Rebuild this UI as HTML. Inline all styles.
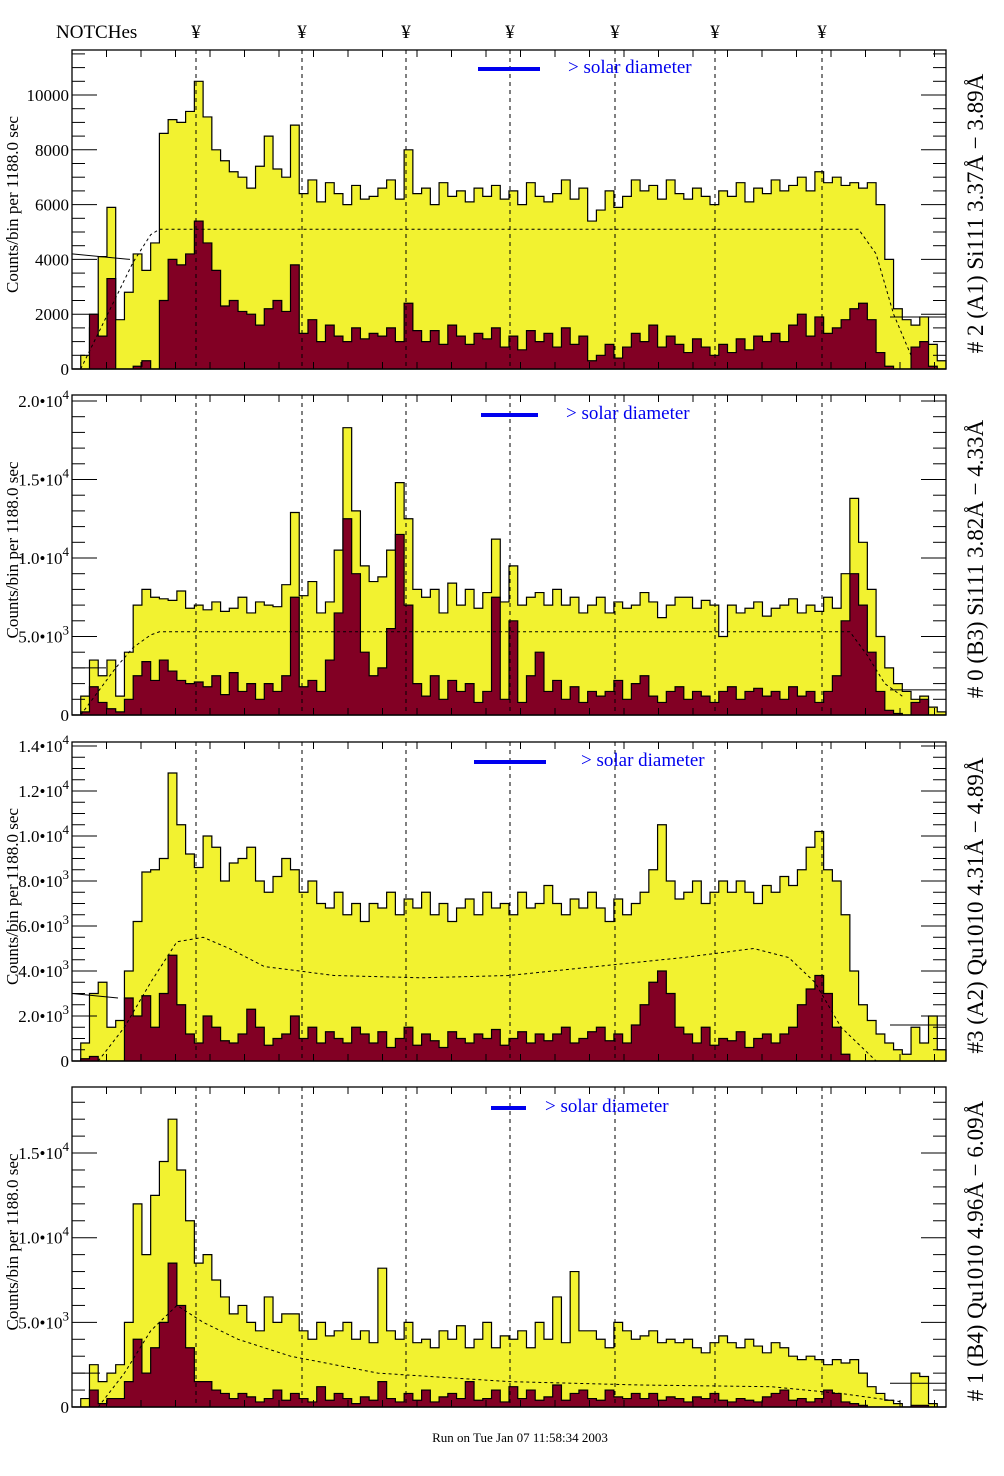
<!DOCTYPE html>
<html><head><meta charset="utf-8"><style>
html,body{margin:0;padding:0;background:#fff}
svg{display:block}
text{font-family:"Liberation Serif",serif}
</style></head><body>
<svg id="c" width="1004" height="1476" viewBox="0 0 1004 1476" xmlns="http://www.w3.org/2000/svg">
<text x="56" y="38" font-size="19">NOTCHes</text>
<g id="notchmarks"></g>
<g id="panels"></g>
<text x="520" y="1442" font-size="13" text-anchor="middle">Run on Tue Jan 07 11:58:34 2003</text>
</svg>
<script>
// ---- data (counts in thousands, 100 bins across detector) ----
const notchPositions = [196, 302, 406, 510, 615, 715, 822];
const p1Total = [0,0.5,1.5,4.1,5.9, 1.8,2.8,4.2,3.6,4.6, 8.6,9.1,9.0,9.4,10.5, 9.2,8.0,7.6,7.2,7.0, 6.6,7.4,8.5,7.3,7.0, 8.9,6.4,6.9,6.1,6.8, 6.4,6.0,6.7,6.2,6.3, 6.6,6.9,6.2,8.0,6.4, 6.6,6.0,6.8,6.3,6.5, 6.1,6.6,6.3,6.7,6.2, 6.5,6.0,6.8,6.3,6.1, 6.4,6.9,6.2,6.6,5.4, 5.8,6.5,5.9,6.3,6.9, 6.5,6.7,6.2,6.9,6.4, 6.2,6.6,6.3,6.0,6.5, 6.3,6.8,6.1,6.6,6.4, 6.9,6.5,6.7,7.0,6.5, 7.2,6.8,7.0,6.7,6.8, 6.6,6.8,6.0,4.0,2.2, 1.8,1.6,1.9,0.9,0.3];
const p1Part = [0,0,2.0,1.2,3.3, 0,0,0.1,0.3,0, 2.5,4.0,3.8,4.2,5.4, 4.6,3.6,2.3,2.5,2.1, 2.0,1.6,2.2,2.5,2.1, 3.8,1.3,1.8,1.0,1.6, 1.2,1.0,1.5,1.1,1.3, 1.2,1.5,1.0,2.4,1.4, 1.0,1.4,0.9,1.6,1.2, 0.9,1.3,1.1,1.5,0.8, 1.2,0.7,1.4,1.0,1.3, 0.8,1.5,0.9,1.2,0.3, 0.5,0.9,0.4,0.8,1.3, 1.0,1.6,0.8,1.2,0.9, 0.6,1.1,0.8,0.5,0.9, 0.6,1.1,0.7,1.2,1.0, 1.3,1.0,1.6,2.0,1.2, 1.9,1.3,1.5,1.8,2.2, 2.4,1.8,0.6,0.1,0, 0,0.8,1.0,0.1,0];
const p2Total = [0,1.2,3.5,2.5,3.5, 1.2,4.0,7.0,8.0,7.5, 7.4,7.3,7.9,6.8,7.0, 6.7,7.2,6.6,6.8,7.5, 6.5,7.2,7.0,6.9,8.3, 12.9,7.6,8.5,6.5,7.2, 10.5,18.3,13.0,9.5,8.5, 8.8,10.5,14.8,12.5,8.0, 7.5,8.0,6.5,8.4,7.0, 8.0,6.8,7.8,11.2,7.2, 9.5,7.0,7.5,7.8,7.0, 8.0,7.0,7.5,6.5,7.0, 7.5,6.5,7.2,6.8,7.0, 7.8,7.2,6.2,7.0,7.5, 7.5,6.8,7.3,7.0,5.0, 7.0,6.5,6.8,7.2,6.3, 6.8,7.0,7.4,6.5,7.0, 6.6,7.5,6.8,9.0,13.8, 11.0,8.0,5.0,3.0,2.0, 1.5,1.0,1.2,0.5,0.2];
const p2Part = [0,0.2,1.8,0.8,0.4, 0.2,1.0,2.5,3.4,2.2, 3.5,2.8,2.2,2.0,2.1, 1.8,2.5,1.3,2.7,1.5, 2.0,1.0,2.0,1.5,2.5, 7.5,1.8,2.2,1.5,3.5, 6.5,12.5,9.0,4.0,2.5, 3.0,5.5,11.5,7.0,2.0, 1.2,2.5,1.0,2.2,1.5, 2.0,0.8,1.5,7.5,1.0, 6.0,0.8,2.5,4.0,1.5, 2.2,1.0,1.8,0.8,1.5, 1.2,1.5,2.2,1.0,2.0, 2.5,1.2,0.8,1.5,1.8, 1.0,1.5,1.2,0.8,1.5, 1.8,1.0,1.5,1.7,1.2, 1.5,1.0,1.8,1.2,1.5, 0.8,1.5,2.5,6.0,9.0, 7.0,4.0,1.5,0.3,0.1, 0,0.8,1.0,0,0];
const p3Total = [0,0.8,3.0,3.5,1.5, 1.8,4.0,6.2,8.4,8.5, 9.0,12.8,10.5,9.2,8.6, 10.0,9.5,8.0,8.8,9.0, 9.5,8.0,7.5,8.2,9.0, 8.5,7.5,8.0,7.0,6.8, 7.5,6.5,7.0,6.2,7.0, 6.8,7.5,6.5,7.2,6.8, 7.5,6.5,7.0,6.2,6.8, 7.2,6.5,7.5,6.8,7.0, 6.5,7.5,6.8,7.0,7.8, 7.0,6.5,7.2,6.8,7.5, 6.8,6.2,7.2,6.5,7.0, 7.5,8.5,10.5,8.0,7.2, 7.5,8.0,7.0,7.5,8.0, 7.5,8.0,7.5,7.0,7.8, 7.5,8.2,7.8,8.5,9.5, 10.2,8.5,8.0,6.5,4.0, 2.5,1.8,1.2,0.8,0.5, 0.3,1.5,0.8,2.0,0.5];
const p3Part = [0,0.1,0.2,0,0, 0,2.8,2.0,2.9,1.5, 3.0,4.7,2.5,1.2,0.8, 2.0,1.5,0.9,0.8,1.2, 2.3,1.5,0.7,1.0,1.2, 2.0,1.0,1.5,0.8,1.3, 1.0,0.8,1.5,1.2,0.8, 1.3,0.6,1.0,1.5,0.7, 1.2,0.9,0.6,1.3,1.0, 0.8,1.2,1.0,1.4,0.7, 1.0,1.3,0.8,1.2,0.9, 1.2,1.5,0.8,1.0,1.3, 1.5,0.9,1.2,0.8,1.6, 2.5,3.5,4.0,3.0,1.5, 1.2,0.8,1.5,0.7,1.0, 0.9,1.3,0.6,1.0,1.2, 0.8,1.2,1.5,2.5,3.2, 3.8,3.0,1.5,0.3,0, 0,0,0,0,0, 0,0,0,0,0];
const p4Total = [0,0.5,2.5,1.5,2.0, 2.5,5.0,12.0,9.0,12.5, 14.5,17.0,14.0,11.0,8.5, 9.0,7.5,6.5,5.5,6.0, 5.0,4.5,6.5,5.0,5.5, 5.5,4.5,4.0,5.0,4.2, 4.5,5.0,4.0,4.5,3.8, 8.2,4.5,4.0,5.0,3.8, 4.0,3.5,4.5,4.0,4.8, 3.5,4.0,5.0,3.5,4.2, 4.0,4.5,3.5,5.0,4.0, 6.5,3.8,8.0,4.5,4.5, 4.0,3.5,5.0,4.5,4.0, 4.2,4.5,3.8,4.0,3.8, 4.0,3.5,3.2,3.8,4.2, 3.8,3.5,4.0,3.6,3.2, 3.8,3.5,3.0,2.8,3.0, 2.8,2.5,2.8,2.6,2.8, 2.0,1.2,0.8,0.4,0.2, 0,2.0,1.8,0.2,0];
const p4Part = [0,0,1.0,0.2,0.5, 0.5,1.5,4.0,2.0,3.5, 5.0,8.5,6.0,3.5,1.5, 1.5,1.0,0.8,0.5,0.8, 0.6,0.3,0.5,1.0,0.4, 0.8,0.5,0.3,1.2,0.4, 0.8,0.5,0.2,0.6,0.4, 1.5,0.5,0.3,0.8,0.4, 1.0,0.3,0.6,0.8,0.5, 1.5,0.4,0.5,1.0,0.3, 1.2,0.5,1.0,0.4,0.6, 1.3,0.4,0.8,1.0,0.5, 0.4,1.0,0.6,0.5,0.8, 0.5,0.8,0.4,0.6,0.5, 0.3,0.6,0.5,0.8,0.4, 0.3,0.5,0.4,0.3,0.6, 0.8,1.0,0.4,0.5,0.3, 0.5,1.0,0.8,0.3,0.2, 0.1,0,0,0,0, 0,0.1,0.1,0,0];
// model curves: bin index, value (k)
const p1ModelBins = [1,3,5,7,9,10,90,92,94,96];
const p1ModelVals = [0,1.3,2.6,3.9,4.9,5.1,5.1,4.2,2.0,0.5];
const p2ModelBins = [1,3,5,7,9,10,89,91,93,95];
const p2ModelVals = [0,1.5,3.0,4.3,5.1,5.3,5.3,3.8,2.0,1.2];
const p3ModelBins = [3,6,9,12,15,18,22,30,40,50,60,70,78,82,85,88,92];
const p3ModelVals = [0,1.5,3.5,5.3,5.5,5.0,4.2,3.8,3.7,3.8,4.2,4.6,5.0,4.6,3.5,1.5,0];
const p4ModelBins = [3,6,9,12,15,19,25,35,50,65,80,88,95];
const p4ModelVals = [0,2.0,4.5,6.0,5.0,4.0,3.0,2.0,1.5,1.3,1.2,0.8,0.3];
const panelTitles = ["# 2 (A1) Si111  3.37Å − 3.89Å","# 0 (B3) Si111  3.82Å − 4.33Å","#3 (A2) Qu1010  4.31Å − 4.89Å","# 1 (B4) Qu1010 4.96Å − 6.09Å"];
const p1Ticks = [0,2000,4000,6000,8000,10000];
const p2Ticks = [0,5000,10000,15000,20000];
const p3Ticks = [0,2000,4000,6000,8000,10000,12000,14000];
const p4Ticks = [0,5000,10000,15000];

const NS="http://www.w3.org/2000/svg";
const X0=72, X1=946, NB=100, BW=(X1-X0)/NB;
function mk(tag,attrs,parent){const e=document.createElementNS(NS,tag);for(const k in attrs)e.setAttribute(k,attrs[k]);if(parent)parent.appendChild(e);return e;}
const svg=document.getElementById('c');
const nm=document.getElementById('notchmarks');
notchPositions.forEach(x=>{const t=mk('text',{x:x,y:38,'font-size':19,'text-anchor':'middle'},nm);t.textContent='¥';

});

const panels=[
 {top:50,zero:369,k:27.4,tot:p1Total,part:p1Part,mb:p1ModelBins,mv:p1ModelVals,ticks:p1Ticks,minor:500,sci:false,bar:[478,540],st:568,sy:73,lft:[4.2,4.0,130],rgt:1.9},
 {top:395,zero:715,k:15.7,tot:p2Total,part:p2Part,mb:p2ModelBins,mv:p2ModelVals,ticks:p2Ticks,minor:1000,sci:true,bar:[481,538],st:566,sy:419,lft:[3.0,3.0,106],rgt:1.6},
 {top:742,zero:1061,k:22.5,tot:p3Total,part:p3Part,mb:p3ModelBins,mv:p3ModelVals,ticks:p3Ticks,minor:500,sci:true,bar:[474,546],st:581,sy:766,lft:[3.0,2.8,118],rgt:1.6},
 {top:1087,zero:1407,k:16.93,tot:p4Total,part:p4Part,mb:p4ModelBins,mv:p4ModelVals,ticks:p4Ticks,minor:1000,sci:true,bar:[491,526],st:545,sy:1112,lft:[2.0,2.0,100],rgt:1.4}
];
const pg=document.getElementById('panels');
panels.forEach((p,pi)=>{
 const g=mk('g',{},pg);
 
 
 const y=v=>p.zero-v*p.k;
 const xb=i=>X0+i*BW;
 function hist(arr,fill,name){
  let d='M'+X0+','+p.zero;
  arr.forEach((v,i)=>{const yy=Math.max(p.top,y(v));d+=' L'+xb(i).toFixed(2)+','+yy.toFixed(2)+' L'+xb(i+1).toFixed(2)+','+yy.toFixed(2);});
  d+=' L'+X1+','+p.zero+' Z';
  const e=mk('path',{d:d,fill:fill,stroke:'#000','stroke-width':1.2},g);
  
  
 }
 hist(p.tot,'#f2f230','total-counts-histogram');
 hist(p.part,'#820024','component-counts-histogram');
 let md='';p.mb.forEach((b,i)=>{md+=(i?' L':'M')+(xb(b)).toFixed(1)+','+y(p.mv[i]).toFixed(1);});
 const mc=mk('path',{d:md,fill:'none',stroke:'#000','stroke-width':1,'stroke-dasharray':'3,3'},g);
 
 
 const l1=mk('line',{x1:X0,x2:p.lft[2],y1:y(p.lft[0]),y2:y(p.lft[1]),stroke:'#000','stroke-width':1},g);
 
 
 const l2=mk('line',{x1:890,x2:X1,y1:y(p.rgt),y2:y(p.rgt),stroke:'#000','stroke-width':1},g);
 
 
 notchPositions.forEach(x=>{const e=mk('line',{x1:x,x2:x,y1:p.top,y2:p.zero,stroke:'#000','stroke-width':1,'stroke-dasharray':'4,4'},g);
  
  });
 const fr=mk('rect',{x:X0,y:p.top,width:X1-X0,height:p.zero-p.top,fill:'none',stroke:'#000','stroke-width':1.3},g);
 
 
 for(let x=X0+34.5;x<X1;x+=34.5){mk('line',{x1:x,x2:x,y1:p.top,y2:p.top+7,stroke:'#000'},g);mk('line',{x1:x,x2:x,y1:p.zero,y2:p.zero-7,stroke:'#000'},g);}
 const vmax=(p.zero-p.top)/p.k*1000;
 for(let v=0;v<=vmax;v+=p.minor){const yy=y(v/1000);const major=p.ticks.indexOf(v)>=0;
  mk('line',{x1:X0,x2:X0+(major?25:13),y1:yy,y2:yy,stroke:'#000'},g);
  mk('line',{x1:X1,x2:X1-(major?25:13),y1:yy,y2:yy,stroke:'#000'},g);}
 p.ticks.forEach(v=>{const yy=y(v/1000);
  const t=mk('text',{x:69,y:yy+6,'font-size':17,'text-anchor':'end'},g);
  
  
  if(!p.sci||v===0){t.textContent=String(v);}
  else{const e=Math.floor(Math.log10(v));const m=(v/Math.pow(10,e)).toFixed(1);
   const a=mk('tspan',{},t);a.textContent=m+'•10';const b=mk('tspan',{dy:-8,'font-size':13},t);b.textContent=String(e);}
 });
 const cy=(p.top+p.zero)/2;
 const yt=mk('text',{x:0,y:0,'font-size':17,'text-anchor':'middle',transform:'translate(18,'+(cy-5)+') rotate(-90)'},g);
 yt.textContent='Counts/bin per   1188.0 sec';
 
 
 const rt=mk('text',{x:0,y:0,'font-size':23,'text-anchor':'middle',transform:'translate(983,'+(cy+4)+') rotate(-90)'},g);
 rt.textContent=panelTitles[pi];
 
 
 const lb=mk('line',{x1:p.bar[0],x2:p.bar[1],y1:p.sy-4,y2:p.sy-4,stroke:'#0000ee','stroke-width':4},g);
 
 
 const lt=mk('text',{x:p.st,y:p.sy,'font-size':19,fill:'#0000ee'},g);
 lt.textContent='> solar diameter';
 
 
});
</script>
</body></html>
